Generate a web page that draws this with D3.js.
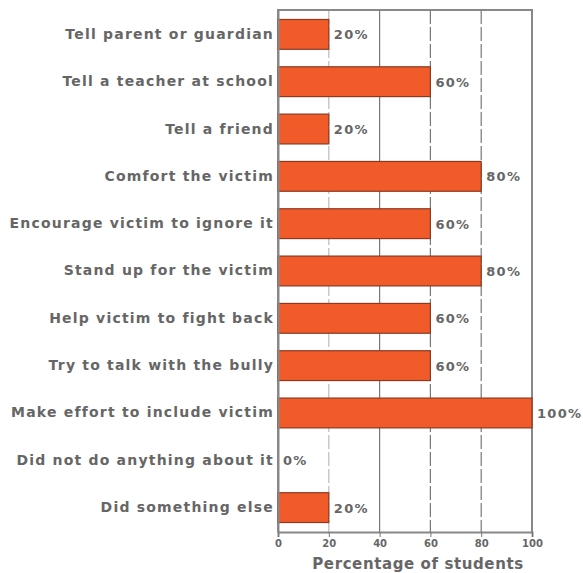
<!DOCTYPE html>
<html>
<head>
<meta charset="utf-8">
<script src="https://cdn.jsdelivr.net/npm/d3@7"></script>
<style>
  body { margin: 0; background: #fff; }
  text { font-family: "DejaVu Sans", sans-serif; font-weight: bold; }
</style>
</head>
<body>
<svg id="chart" width="583" height="573"></svg>
<script>
// categories and values
const categories = [
  'Tell parent or guardian',
  'Tell a teacher at school',
  'Tell a friend',
  'Comfort the victim',
  'Encourage victim to ignore it',
  'Stand up for the victim',
  'Help victim to fight back',
  'Try to talk with the bully',
  'Make effort to include victim',
  'Did not do anything about it',
  'Did something else'
];
const values = [20, 60, 20, 80, 60, 80, 60, 60, 100, 0, 20];
const xTicks = [0, 20, 40, 60, 80, 100];
const xTitle = 'Percentage of students';

const svg = d3.select('#chart');
const plotLeft = 278, plotRight = 532, plotTop = 10, plotBottom = 532;
const fontFamily = '"DejaVu Sans", sans-serif';

const x = d3.scaleLinear().domain([0, 100]).range([plotLeft, plotRight]);
const y = d3.scaleBand().domain(categories).range([plotTop, plotBottom]).paddingInner(0.37).paddingOuter(0.2);

//сетка
svg.append('g')
  .selectAll('line')
  .data(xTicks.slice(1, 5))
  .enter()
  .append('line')
  .attr('x1', d => x(d)).attr('x2', d => x(d))
  .attr('y1', plotTop).attr('y2', plotBottom)
  .style('stroke', d => d === 20 ? '#bbb' : '#777')
  .style('stroke-width', 1.2)
  .style('stroke-dasharray', d => d === 40 ? null : '14,3');

//рамка сверху и справа
svg.append('path')
  .attr('d', `M${plotLeft},${plotBottom}V${plotTop}H${plotRight}V${plotBottom}`)
  .style('fill', 'none')
  .style('stroke', '#888')
  .style('stroke-width', 2);

const rows = values.map((v, i) => ({ v, c: categories[i] }));

//столбики
svg.append('g')
  .selectAll('rect')
  .data(rows.filter(d => d.v > 0))
  .enter()
  .append('rect')
  .attr('x', x(0))
  .attr('y', d => y(d.c))
  .attr('width', d => x(d.v) - x(0))
  .attr('height', y.bandwidth())
  .style('fill', '#f15a29')
  .style('stroke', '#8a3a22')
  .style('stroke-width', 1.2);

//подписи значений
svg.append('g')
  .selectAll('text')
  .data(rows)
  .enter()
  .append('text')
  .attr('x', d => x(d.v) + 5)
  .attr('y', d => y(d.c) + y.bandwidth() / 2 + 5)
  .style('fill', '#666')
  .style('font-size', '13px')
  .style('letter-spacing', '1.3px')
  .text(d => d.v + '%');

//ось Y
const yAxis = svg.append('g')
  .attr('transform', `translate(${plotLeft},0)`)
  .call(d3.axisLeft(y).tickSize(0).tickPadding(4));
yAxis.select('.domain').style('stroke', '#888').style('stroke-width', 2);
yAxis.selectAll('text')
  .style('fill', '#666')
  .style('font-size', '14px')
  .style('letter-spacing', '1.2px')
  .style('font-family', fontFamily)
  .style('font-weight', 'bold');

//ось X
const xAxis = svg.append('g')
  .attr('transform', `translate(0,${plotBottom})`)
  .call(d3.axisBottom(x).tickValues(xTicks).tickSize(5).tickPadding(3));
xAxis.select('.domain').style('stroke', '#888').style('stroke-width', 2);
xAxis.selectAll('line').style('stroke', '#777');
xAxis.selectAll('text')
  .style('fill', '#666')
  .style('font-size', '10px')
  .style('font-family', fontFamily)
  .style('font-weight', 'bold');

svg.append('text')
  .attr('x', 418)
  .attr('y', 569)
  .attr('text-anchor', 'middle')
  .style('fill', '#666')
  .style('font-size', '15px')
  .style('letter-spacing', '0.6px')
  .text(xTitle);
</script>
</body>
</html>
